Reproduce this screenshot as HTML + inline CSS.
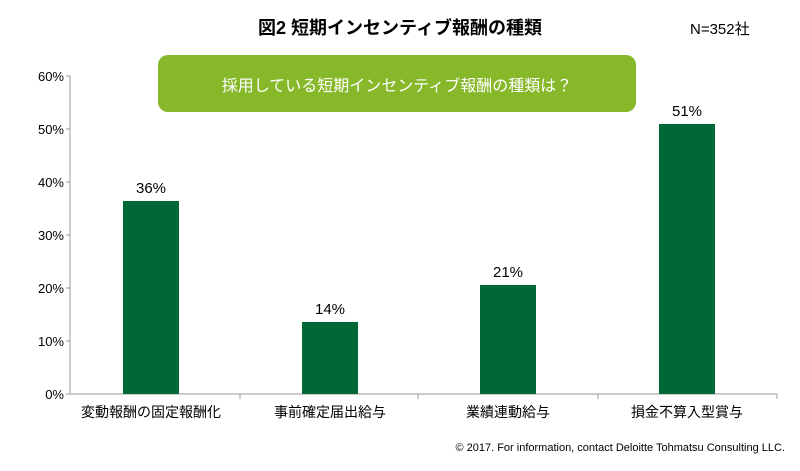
<!DOCTYPE html>
<html><head><meta charset="utf-8"><style>
body{margin:0;background:#fff;width:800px;height:466px;overflow:hidden;font-family:"Liberation Sans","Noto Sans CJK JP",sans-serif;}
</style></head><body>
<svg width="800" height="466" xmlns="http://www.w3.org/2000/svg" font-family="Liberation Sans, Noto Sans CJK JP, sans-serif">
<text x="400" y="34" font-size="18" font-weight="bold" text-anchor="middle" fill="#000">図2  短期インセンティブ報酬の種類</text>
<text x="690" y="34" font-size="15" fill="#000">N=352社</text>
<rect x="158" y="55" width="478" height="57" rx="10" fill="#86b82a"/>
<text x="397" y="91" font-size="16" fill="#fff" text-anchor="middle">採用している短期インセンティブ報酬の種類は？</text>
<g font-size="13" fill="#000" text-anchor="end">
<text x="64" y="81">60%</text><text x="64" y="134">50%</text><text x="64" y="187">40%</text>
<text x="64" y="240">30%</text><text x="64" y="293">20%</text><text x="64" y="346">10%</text><text x="64" y="399">0%</text>
</g>
<g stroke="#999" stroke-width="1">
<line x1="70" y1="76" x2="70" y2="394"/>
<line x1="70" y1="394" x2="777" y2="394"/>
<line x1="66" y1="76" x2="70" y2="76"/><line x1="66" y1="129" x2="70" y2="129"/><line x1="66" y1="182" x2="70" y2="182"/>
<line x1="66" y1="235" x2="70" y2="235"/><line x1="66" y1="288" x2="70" y2="288"/><line x1="66" y1="341" x2="70" y2="341"/><line x1="66" y1="394" x2="70" y2="394"/>
<line x1="240" y1="394" x2="240" y2="399"/><line x1="418" y1="394" x2="418" y2="399"/><line x1="598" y1="394" x2="598" y2="399"/><line x1="777" y1="394" x2="777" y2="399"/>
</g>
<g fill="#006837">
<rect x="123" y="201" width="56" height="193"/>
<rect x="302" y="322" width="56" height="72"/>
<rect x="480" y="285" width="56" height="109"/>
<rect x="659" y="124" width="56" height="270"/>
</g>
<g font-size="15" fill="#000" text-anchor="middle">
<text x="151" y="193">36%</text><text x="330" y="314">14%</text><text x="508" y="277">21%</text><text x="687" y="116">51%</text>
</g>
<g font-size="14" fill="#000" text-anchor="middle">
<text x="151" y="417">変動報酬の固定報酬化</text><text x="330" y="417">事前確定届出給与</text>
<text x="508" y="417">業績連動給与</text><text x="687" y="417">損金不算入型賞与</text>
</g>
<text x="785" y="451" font-size="11" fill="#000" text-anchor="end">© 2017. For information, contact Deloitte Tohmatsu Consulting LLC.</text>
</svg>
</body></html>
